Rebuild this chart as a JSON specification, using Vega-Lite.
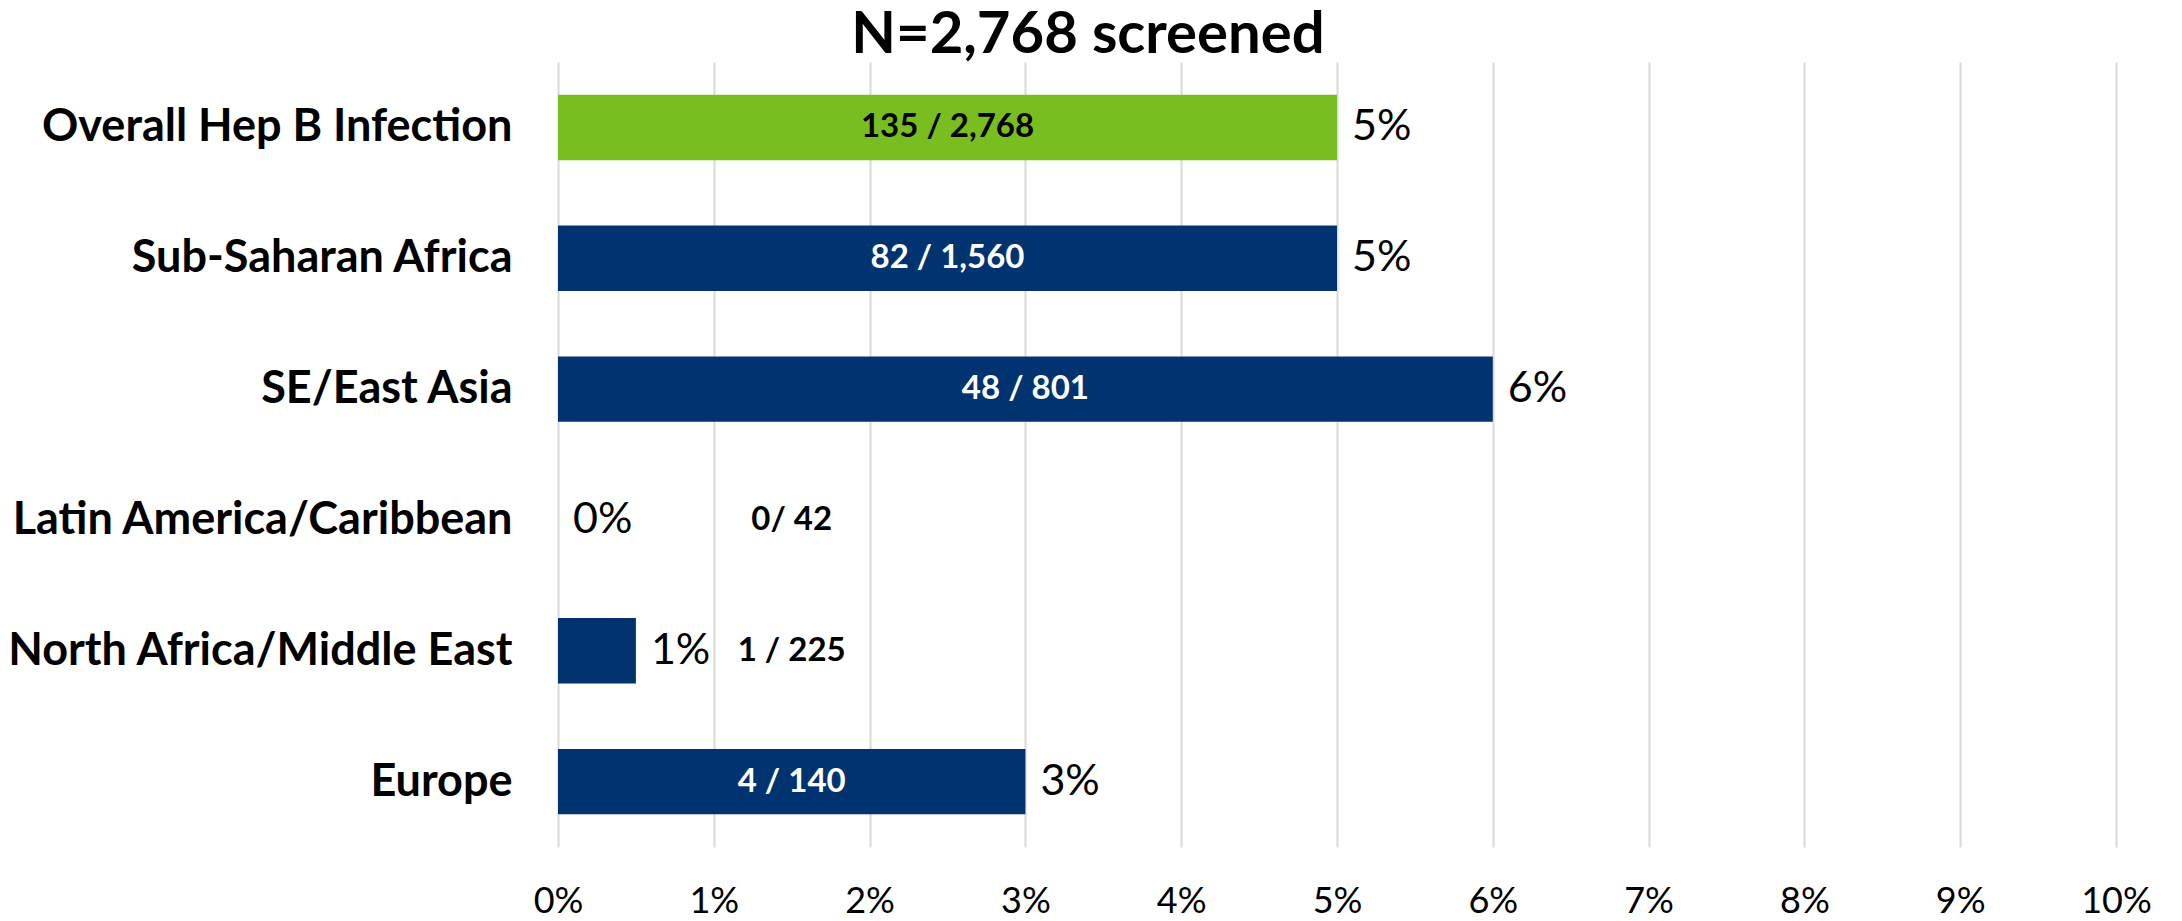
{
  "$schema": "https://vega.github.io/schema/vega-lite/v6.json",
  "width": 1558,
  "height": 785,
  "autosize": {"type": "none"},
  "padding": {"left": 558, "top": 62, "right": 66, "bottom": 74},
  "background": "white",
  "config": {"view": {"stroke": null}, "font": "Lato"},
  "title": {"text": "N=2,768 screened", "fontSize": 58, "font": "Lato", "fontWeight": "bold", "color": "black", "anchor": "middle", "frame": "group", "dx": -249, "dy": 3, "offset": 0},
  "data": {"values": [
    {"region": "Overall Hep B Infection", "group": "Overall", "value": 5, "pct": "5%", "ratio": "135 / 2,768"},
    {"region": "Sub-Saharan Africa", "group": "Region", "value": 5, "pct": "5%", "ratio": "82 / 1,560"},
    {"region": "SE/East Asia", "group": "Region", "value": 6, "pct": "6%", "ratio": "48 / 801"},
    {"region": "Latin America/Caribbean", "group": "Region", "value": 0, "pct": "0%", "ratio": "0/ 42"},
    {"region": "North Africa/Middle East", "group": "Region", "value": 0.5, "pct": "1%", "ratio": "1 / 225"},
    {"region": "Europe", "group": "Region", "value": 3, "pct": "3%", "ratio": "4 / 140"}
  ]},
  "encoding": {
    "y": {"field": "region", "type": "nominal", "sort": null,
      "scale": {"paddingInner": 0.5, "paddingOuter": 0.25},
      "axis": {"title": null, "domain": false, "ticks": false, "labelFontSize": 45, "labelFontWeight": "bold", "labelColor": "black", "labelPadding": 46, "labelLimit": 800, "labelFont": "Lato"}}
  },
  "layer": [
    {
      "mark": {"type": "bar"},
      "encoding": {
        "x": {"field": "value", "type": "quantitative", "scale": {"domain": [0, 10], "nice": false},
          "axis": {"title": null, "values": [0,1,2,3,4,5,6,7,8,9,10], "labelExpr": "datum.value + '%'", "labelFlush": false, "labelFontSize": 36, "labelColor": "black", "labelPadding": 37, "ticks": false, "domain": false, "grid": true, "gridColor": "#D9D9D9", "gridWidth": 2, "labelFont": "Lato"}},
        "color": {"field": "group", "type": "nominal", "scale": {"domain": ["Overall", "Region"], "range": ["#78BE20", "#003370"]}, "legend": null}
      }
    },
    {
      "mark": {"type": "text", "align": "left", "baseline": "middle", "dx": 15, "fontSize": 43, "color": "black", "font": "Lato"},
      "encoding": {
        "x": {"field": "value", "type": "quantitative"},
        "text": {"field": "pct", "type": "nominal"}
      }
    },
    {
      "transform": [{"filter": "datum.value >= 2"}, {"calculate": "datum.value / 2", "as": "mid"}],
      "mark": {"type": "text", "align": "center", "baseline": "middle", "fontSize": 33, "fontWeight": "bold", "font": "Lato"},
      "encoding": {
        "x": {"field": "mid", "type": "quantitative"},
        "text": {"field": "ratio", "type": "nominal"},
        "color": {"condition": {"test": "datum.group === 'Overall'", "value": "black"}, "value": "white"}
      }
    },
    {
      "transform": [{"filter": "datum.value < 2"}],
      "mark": {"type": "text", "align": "center", "baseline": "middle", "fontSize": 33, "fontWeight": "bold", "color": "black", "font": "Lato"},
      "encoding": {
        "x": {"datum": 1.5, "type": "quantitative"},
        "text": {"field": "ratio", "type": "nominal"}
      }
    }
  ]
}
